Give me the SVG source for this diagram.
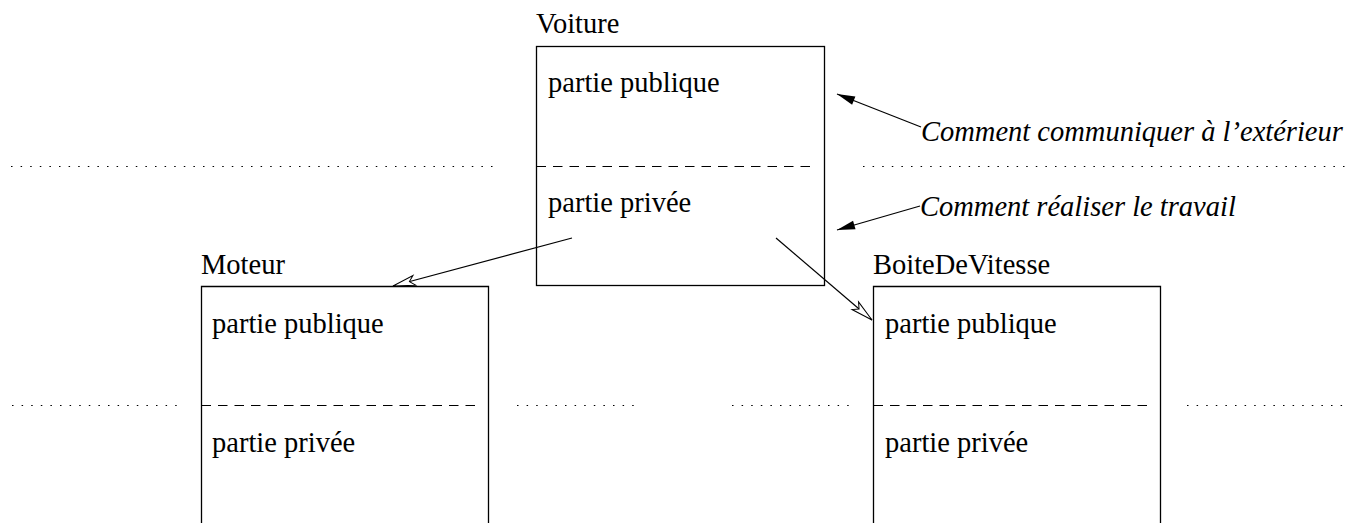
<svg xmlns="http://www.w3.org/2000/svg" width="1357" height="523" viewBox="0 0 1357 523">
<style>
.box{fill:none;stroke:#000;stroke-width:1.3}
.sep{stroke:#000;stroke-width:1.2;stroke-dasharray:9.5 7}
.dot{stroke:#000;stroke-width:1.2;stroke-dasharray:1.5 8.1}
.t{font-family:"Liberation Serif",serif;font-size:28.5px;fill:#000}
.i{font-style:italic}
.c{stroke:#000;stroke-width:1.2;fill:none}
</style>
<defs>
<marker id="filled" markerUnits="userSpaceOnUse" markerWidth="20" markerHeight="12" refX="18" refY="5" orient="auto" overflow="visible">
<path d="M0,0.5 L18,5 L0,9.5 z" fill="#000"/>
</marker>
<marker id="open" markerUnits="userSpaceOnUse" markerWidth="24" markerHeight="12" refX="22" refY="5" orient="auto" overflow="visible">
<path d="M0,0 L22,5 L0,10 L5,5 z" fill="#fff" stroke="#000" stroke-width="1"/>
</marker>
</defs>
<g id="guides">
<line class="dot" x1="11" y1="166.5" x2="494" y2="166.5"/>
<line class="dot" x1="863" y1="166.5" x2="1347" y2="166.5"/>
<line class="dot" x1="12" y1="405.5" x2="178" y2="405.5"/>
<line class="dot" x1="517" y1="405.5" x2="637" y2="405.5"/>
<line class="dot" x1="732" y1="405.5" x2="854" y2="405.5"/>
<line class="dot" x1="1187" y1="405.5" x2="1347" y2="405.5"/>
</g>
<g id="voiture">
<text class="t" x="536" y="33">Voiture</text>
<rect class="box" x="536.5" y="46.5" width="288" height="239"/>
<line class="sep" x1="536.5" y1="166.5" x2="817" y2="166.5"/>
<text class="t" x="548" y="92">partie publique</text>
<text class="t" x="548" y="212">partie privée</text>
</g>
<g id="moteur">
<text class="t" x="201" y="274">Moteur</text>
<path class="box" d="M201.5,523 V286.5 H488.5 V523"/>
<line class="sep" x1="201.5" y1="405.5" x2="481" y2="405.5"/>
<text class="t" x="212" y="333">partie publique</text>
<text class="t" x="212" y="452">partie privée</text>
</g>
<g id="boite">
<text class="t" x="873" y="274">BoiteDeVitesse</text>
<path class="box" d="M873.5,523 V286.5 H1160.5 V523"/>
<line class="sep" x1="873.5" y1="405.5" x2="1153" y2="405.5"/>
<text class="t" x="885" y="333">partie publique</text>
<text class="t" x="885" y="452">partie privée</text>
</g>
<g id="notes">
<text class="t i" x="921" y="141">Comment communiquer à l’extérieur</text>
<text class="t i" x="920" y="216">Comment réaliser le travail</text>
</g>
<g id="connectors">
<line class="c" x1="572" y1="238" x2="393" y2="286" marker-end="url(#open)"/>
<line class="c" x1="776" y1="238" x2="872" y2="320" marker-end="url(#open)"/>
<line class="c" x1="921" y1="127" x2="837" y2="94" marker-end="url(#filled)"/>
<line class="c" x1="920" y1="206" x2="837" y2="230" marker-end="url(#filled)"/>
</g>
</svg>
